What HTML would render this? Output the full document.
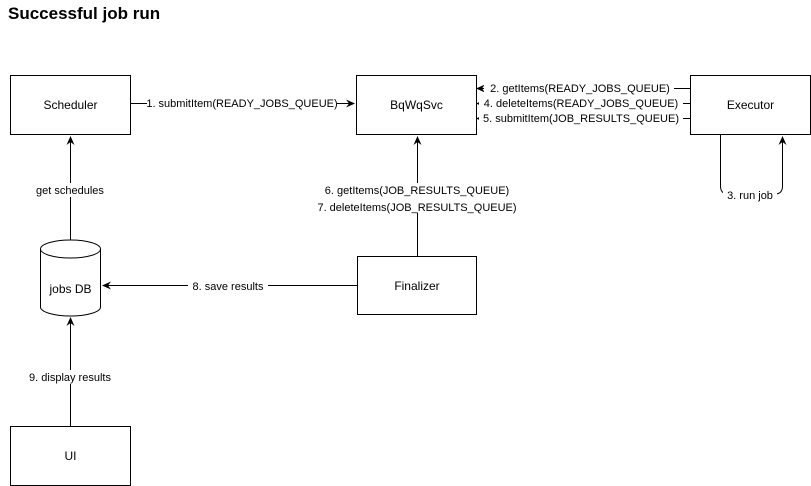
<!DOCTYPE html>
<html><head><style>body{margin:0;background:#fff}svg{display:block}</style></head><body>
<svg width="811" height="486" xmlns="http://www.w3.org/2000/svg" font-family="Liberation Sans, sans-serif">
<defs><marker id="a" markerWidth="10" markerHeight="10" refX="8" refY="5" orient="auto" markerUnits="userSpaceOnUse"><path d="M0,1 L9,5 L0,9 L3,5 Z" fill="#000"/></marker></defs>
<text x="8" y="19" font-size="17" font-weight="bold">Successful job run</text>
<g fill="#fff" stroke="#000" stroke-width="1">
<rect x="10.5" y="75.5" width="120" height="59"/>
<rect x="356.5" y="75.5" width="120" height="59"/>
<rect x="690.5" y="75.5" width="120" height="59"/>
<rect x="357.5" y="256.5" width="119" height="58"/>
<rect x="10.5" y="426.5" width="120" height="59"/>
<path d="M40.5,249 L40.5,307 A30,9 0 0 0 100.5,307 L100.5,249"/>
<ellipse cx="70.5" cy="249" rx="30" ry="9"/>
</g>
<g font-size="12" text-anchor="middle">
<text x="70.5" y="109">Scheduler</text>
<text x="416.5" y="109">BqWqSvc</text>
<text x="750.5" y="109">Executor</text>
<text x="417" y="290">Finalizer</text>
<text x="70.5" y="460">UI</text>
<text x="70.5" y="293">jobs DB</text>
</g>
<g stroke="#000" fill="none">
<path d="M130.5,103.5 H354" marker-end="url(#a)"/>
<path d="M690,88.5 H477" marker-end="url(#a)"/>
<path d="M690,103.5 H477" marker-end="url(#a)"/>
<path d="M690,118.5 H477" marker-end="url(#a)"/>
<path d="M720.5,134 V186 Q720.5,194 728,194 H775 Q782.5,194 782.5,186 V137" marker-end="url(#a)"/>
<path d="M417.5,256 V137" marker-end="url(#a)"/>
<path d="M357,285.5 H103" marker-end="url(#a)"/>
<path d="M70.5,240 V137" marker-end="url(#a)"/>
<path d="M70.5,426 V318" marker-end="url(#a)"/>
</g>
<g font-size="11" text-anchor="middle">
<rect x="147" y="96" width="190" height="14" fill="#fff"/>
<text x="242" y="107">1. submitItem(READY_JOBS_QUEUE)</text>
<rect x="484" y="81" width="190" height="14" fill="#fff"/>
<text x="580" y="92">2. getItems(READY_JOBS_QUEUE)</text>
<rect x="479" y="96" width="204" height="14" fill="#fff"/>
<text x="581" y="107">4. deleteItems(READY_JOBS_QUEUE)</text>
<rect x="479" y="111" width="204" height="14" fill="#fff"/>
<text x="581" y="122">5. submitItem(JOB_RESULTS_QUEUE)</text>
<rect x="723" y="187" width="54" height="14" fill="#fff"/>
<text x="750" y="199">3. run job</text>
<rect x="305" y="183" width="225" height="30" fill="#fff"/>
<text x="417" y="194">6. getItems(JOB_RESULTS_QUEUE)</text>
<text x="417" y="211">7. deleteItems(JOB_RESULTS_QUEUE)</text>
<rect x="188" y="279" width="80" height="14" fill="#fff"/>
<text x="228" y="290">8. save results</text>
<rect x="18" y="183" width="104" height="14" fill="#fff"/>
<text x="70" y="194">get schedules</text>
<rect x="18" y="370" width="104" height="14" fill="#fff"/>
<text x="70" y="381">9. display results</text>
</g>
</svg>
</body></html>
